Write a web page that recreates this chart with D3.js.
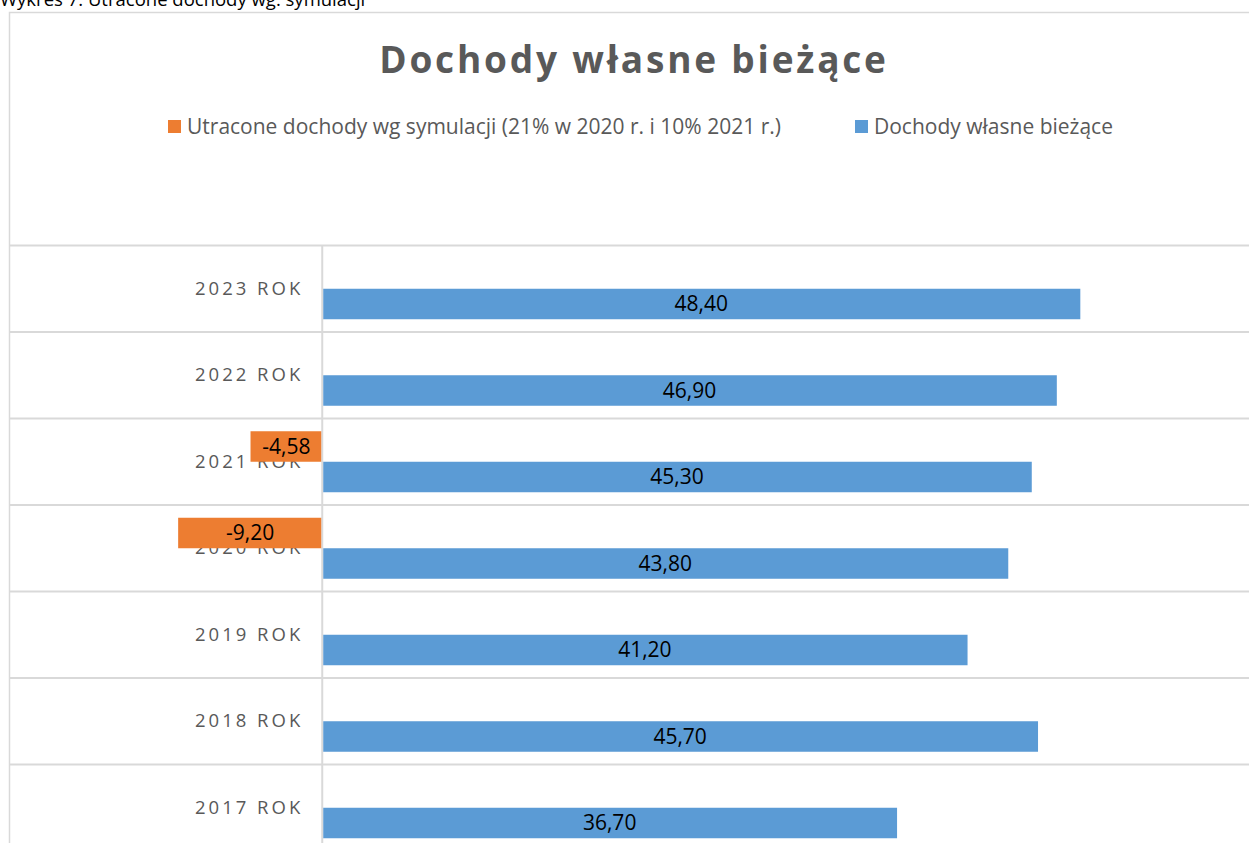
<!DOCTYPE html>
<html>
<head>
<meta charset="utf-8">
<script src="https://cdn.jsdelivr.net/npm/d3@7"></script>
<style>
  html, body { margin: 0; padding: 0; background: #fff; }
  svg { display: block; }
</style>
</head>
<body>
<svg id="chart" width="1249" height="843"></svg>
<script>
const categories = ["2023 ROK", "2022 ROK", "2021 ROK", "2020 ROK", "2019 ROK", "2018 ROK", "2017 ROK"];
const dochodyWlasne = [48.40, 46.90, 45.30, 43.80, 41.20, 45.70, 36.70];
const utraconeDochody = [null, null, -4.58, -9.20, null, null, null];
const seriesNames = ["Utracone dochody wg symulacji (21% w 2020 r. i 10% 2021 r.)", "Dochody własne bieżące"];
const seriesColors = ["#ED7D31", "#5B9BD5"];
const xDomain = [-20, 60];
const chartTitle = "Dochody własne bieżące";
const caption = "Wykres 7. Utracone dochody wg. symulacji";

const svg = d3.select("#chart");
const font = "'Open Sans', 'Noto Sans', sans-serif";
const fmt = v => d3.format(".2f")(v).replace(".", ",").replace("\u2212", "-");

// caption (cut off at top)
svg.append("text").attr("x", 0).attr("y", 6)
  .attr("font-family", font).attr("font-size", 18.5).attr("fill", "#000")
  .text(caption);

// chart area border
svg.append("rect").attr("x", 9.5).attr("y", 12.5).attr("width", 1400).attr("height", 1000)
  .attr("fill", "#fff").attr("stroke", "#D9D9D9").attr("stroke-width", 1.5);

// title
svg.append("text").attr("x", 634).attr("y", 73).attr("text-anchor", "middle")
  .attr("font-family", font).attr("font-weight", "bold").attr("font-size", 37)
  .attr("letter-spacing", 2.8).attr("fill", "#595959")
  .text(chartTitle);

// legend
const legendItems = [
  { name: seriesNames[0], color: seriesColors[0], x: 168 },
  { name: seriesNames[1], color: seriesColors[1], x: 855 }
];
const lg = svg.append("g");
legendItems.forEach(d => {
  lg.append("rect").attr("x", d.x).attr("y", 120).attr("width", 13).attr("height", 13).attr("fill", d.color);
  lg.append("text").attr("x", d.x + 19).attr("y", 126.5).attr("dy", "0.35em")
    .attr("font-family", font).attr("font-size", 21).attr("fill", "#595959").text(d.name);
});

// scales
const x = d3.scaleLinear().domain(xDomain).range([9, 1262]);
const y = d3.scaleBand().domain(categories).range([245.5, 245.5 + 86.5 * categories.length]).padding(0);
const sub = d3.scaleBand().domain([0, 1]).range([0, y.bandwidth()]).paddingInner(0).paddingOuter(0.418);

// gridlines at category boundaries
const bounds = categories.map(c => y(c)).concat([y(categories[categories.length - 1]) + y.bandwidth()]);
svg.append("g").selectAll("line").data(bounds).join("line")
  .attr("x1", 9).attr("x2", 1300).attr("y1", d => d).attr("y2", d => d)
  .attr("stroke", "#D9D9D9").attr("stroke-width", 2);

// vertical axis line at zero
svg.append("line").attr("x1", x(0)).attr("x2", x(0)).attr("y1", y.range()[0]).attr("y2", 900)
  .attr("stroke", "#D9D9D9").attr("stroke-width", 2);

// category axis labels
const yAxis = d3.axisLeft(y).tickSize(0).tickPadding(19);
const ag = svg.append("g").attr("transform", `translate(${x(0)},0)`).call(yAxis);
ag.select(".domain").remove();
ag.selectAll("text").attr("font-family", font).attr("font-size", 18.5)
  .attr("letter-spacing", 3).attr("fill", "#595959");

// bars
const rows = categories.map((c, i) => ({ c, vals: [utraconeDochody[i], dochodyWlasne[i]] }));
const barData = [];
rows.forEach(r => r.vals.forEach((v, s) => { if (v != null) barData.push({ c: r.c, s, v }); }));

svg.append("g").selectAll("rect").data(barData).join("rect")
  .attr("x", d => x(Math.min(0, d.v)) + (d.v >= 0 ? 1 : 0))
  .attr("y", d => y(d.c) + sub(d.s))
  .attr("width", d => Math.abs(x(d.v) - x(0)) - 1)
  .attr("height", sub.bandwidth())
  .attr("fill", d => seriesColors[d.s]);

// data labels
svg.append("g").selectAll("text").data(barData).join("text")
  .attr("x", d => (x(d.v) + x(0)) / 2)
  .attr("y", d => y(d.c) + sub(d.s) + sub.bandwidth() / 2)
  .attr("dy", "0.35em").attr("text-anchor", "middle")
  .attr("font-family", font).attr("font-size", 21).attr("fill", "#000")
  .text(d => fmt(d.v));
</script>
</body>
</html>
